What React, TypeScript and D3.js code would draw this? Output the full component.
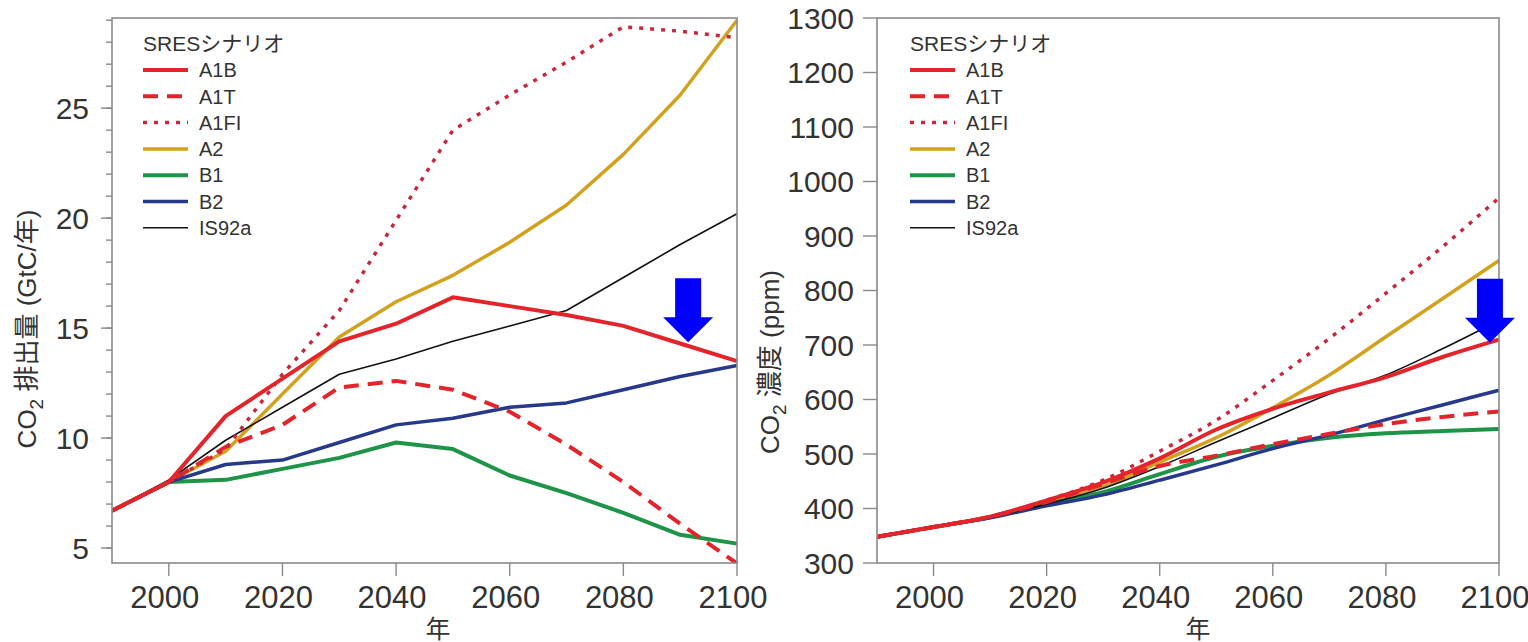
import React from "react";
import * as d3 from "d3";

const years = [1990, 2000, 2010, 2020, 2030, 2040, 2050, 2060, 2070, 2080, 2090, 2100];
const scenarios = ["A1B", "A1T", "A1FI", "A2", "B1", "B2", "IS92a"];

// CO2 emissions (GtC / year)
const emA1B = [6.7, 8.0, 11.0, 12.7, 14.4, 15.2, 16.4, 16.0, 15.6, 15.1, 14.3, 13.5];
const emA1T = [6.7, 8.0, 9.6, 10.6, 12.3, 12.6, 12.2, 11.2, 9.7, 8.0, 6.1, 4.3];
const emA1FI = [6.7, 8.0, 9.5, 12.9, 15.8, 19.9, 24.0, 25.6, 27.1, 28.7, 28.5, 28.2];
const emA2 = [6.7, 8.0, 9.4, 12.0, 14.6, 16.2, 17.4, 18.9, 20.6, 22.9, 25.6, 29.0];
const emB1 = [6.7, 8.0, 8.1, 8.6, 9.1, 9.8, 9.5, 8.3, 7.5, 6.6, 5.6, 5.2];
const emB2 = [6.7, 8.0, 8.8, 9.0, 9.8, 10.6, 10.9, 11.4, 11.6, 12.2, 12.8, 13.3];
const emIS92a = [6.7, 8.1, 9.9, 11.4, 12.9, 13.6, 14.4, 15.1, 15.8, 17.3, 18.8, 20.2];

// CO2 concentration (ppm)
const cA1B = [348, 366, 385, 415, 448, 492, 545, 583, 613, 641, 678, 710];
const cA1T = [348, 366, 385, 412, 445, 478, 497, 518, 537, 555, 568, 578];
const cA1FI = [348, 366, 385, 415, 452, 505, 562, 635, 712, 795, 880, 970];
const cA2 = [348, 366, 384, 410, 440, 485, 530, 585, 645, 715, 785, 855];
const cB1 = [348, 366, 384, 408, 430, 463, 495, 515, 530, 538, 542, 546];
const cB2 = [348, 366, 383, 405, 425, 452, 480, 510, 535, 563, 590, 617];
const cIS92a = [348, 366, 384, 408, 437, 477, 522, 566, 610, 645, 693, 745];

const xTicks = [2000, 2020, 2040, 2060, 2080, 2100];
const emTicks = [5, 10, 15, 20, 25];
const emMinor = d3.range(5, 30, 1);
const cTicks = [300, 400, 500, 600, 700, 800, 900, 1000, 1100, 1200, 1300];

const emissions = [emA1B, emA1T, emA1FI, emA2, emB1, emB2, emIS92a];
const concentrations = [cA1B, cA1T, cA1FI, cA2, cB1, cB2, cIS92a];

// arrow annotations: [year, value at tip]
const emArrow = [2091.4, 14.36];
const cArrow = [2098.4, 704];

const FONT = "'Liberation Sans', Arial, Helvetica, 'Noto Sans CJK JP', sans-serif";
const TXT = "#333";
const AX = "#8a8a8a";

const styles: Record<string, { color: string; width: number; dash?: string }> = {
  A1B: { color: "#e3242b", width: 4 },
  A1T: { color: "#e3242b", width: 4, dash: "15 9" },
  A1FI: { color: "#c8283e", width: 3.5, dash: "4 7" },
  A2: { color: "#d2a21f", width: 3.5 },
  B1: { color: "#1e9448", width: 4 },
  B2: { color: "#26398c", width: 3.5 },
  IS92a: { color: "#111", width: 1.6 },
};
const drawOrder = ["A2", "B1", "B2", "IS92a", "A1T", "A1FI", "A1B"];

type PanelProps = {
  x0: number; x1: number; y0: number; y1: number;
  yDomain: [number, number];
  yTicks: number[]; yMinor: number[];
  series: number[][];
  smooth: boolean;
  yLabel: string;
  yLabelX: number; yLabelY: number;
  yTickLabelX: number; yTickLen: number;
  legendX: number; titleX: number;
  arrow: number[];
};

function Panel(p: PanelProps) {
  const x = d3.scaleLinear().domain([1990, 2100]).range([p.x0, p.x1]);
  const y = d3.scaleLinear().domain(p.yDomain).range([p.y1, p.y0]);
  const line = d3.line<number>().x((_, i) => x(years[i])).y((v) => y(v))
    .curve(p.smooth ? d3.curveMonotoneX : d3.curveLinear);
  const ax = x(p.arrow[0]);
  const ay = y(p.arrow[1]);
  const arrowPts = [
    [ax - 13, ay - 64], [ax + 13, ay - 64], [ax + 13, ay - 25], [ax + 25, ay - 25],
    [ax, ay], [ax - 25, ay - 25], [ax - 13, ay - 25],
  ].map((q) => q.join(",")).join(" ");
  return (
    <g>
      <defs>
        <clipPath id={`clip${p.x0}`}>
          <rect x={p.x0} y={p.y0 - 2} width={p.x1 - p.x0 + 2} height={p.y1 - p.y0 + 2} />
        </clipPath>
      </defs>
      <g clipPath={`url(#clip${p.x0})`}>
        {drawOrder.map((name) => {
          const s = styles[name];
          const d = p.series[scenarios.indexOf(name)];
          return (
            <path key={name} d={line(d) || ""} fill="none" stroke={s.color} strokeWidth={s.width}
              strokeDasharray={s.dash} strokeLinejoin="round" />
          );
        })}
      </g>
      <rect x={p.x0} y={p.y0} width={p.x1 - p.x0} height={p.y1 - p.y0} fill="none" stroke={AX} strokeWidth={1.6} />
      {p.yMinor.map((t) => (
        <line key={"m" + t} x1={p.x0 - 6} x2={p.x0} y1={y(t)} y2={y(t)} stroke={AX} strokeWidth={1.4} />
      ))}
      {p.yTicks.map((t) => (
        <g key={"y" + t}>
          <line x1={p.x0 - p.yTickLen} x2={p.x0} y1={y(t)} y2={y(t)} stroke={AX} strokeWidth={1.4} />
          <text x={p.yTickLabelX} y={y(t)} dy="0.36em" textAnchor="end" fontSize={30} fill={TXT}>{t}</text>
        </g>
      ))}
      {xTicks.map((t) => (
        <g key={"x" + t}>
          <line x1={x(t)} x2={x(t)} y1={p.y1} y2={p.y1 + 13} stroke={AX} strokeWidth={1.4} />
          <text x={x(t) - 4} y={608} textAnchor="middle" fontSize={31} fill={TXT}>{t}</text>
        </g>
      ))}
      <text x={p.titleX} y={638} textAnchor="middle" fontSize={25} fill={TXT}>年</text>
      <text transform={`translate(${p.yLabelX},${p.yLabelY}) rotate(-90)`} textAnchor="middle" fontSize={26} fill={TXT}>
        CO<tspan dy={7} fontSize={19}>2</tspan><tspan dy={-7}>{p.yLabel}</tspan>
      </text>
      <text x={p.legendX} y={51} fontSize={21} fill={TXT}>SRESシナリオ</text>
      {scenarios.map((name, i) => {
        const s = styles[name];
        const yy = 70 + i * 26.3;
        return (
          <g key={"lg" + name}>
            <line x1={p.legendX} x2={p.legendX + 45} y1={yy} y2={yy} stroke={s.color}
              strokeWidth={s.width} strokeDasharray={s.dash} />
            <text x={p.legendX + 56} y={yy} dy="0.36em" fontSize={20} fill={TXT}>{name}</text>
          </g>
        );
      })}
      <polygon points={arrowPts} fill="#0000ff" />
    </g>
  );
}

export default function App() {
  return (
    <svg width={1528} height={642} style={{ position: "absolute", left: 0, top: 0, background: "#fff" }}
      fontFamily={FONT}>
      <rect width={1528} height={642} fill="#fff" />
      <Panel x0={112} x1={737} y0={18} y1={563} yDomain={[4.32, 29.1]} yTicks={emTicks} yMinor={emMinor}
        series={emissions} smooth={false} yLabel={" 排出量 (GtC/年)"} yLabelX={36} yLabelY={329}
        yTickLabelX={89} yTickLen={11} legendX={143} titleX={438} arrow={emArrow} />
      <Panel x0={877} x1={1499} y0={18} y1={563} yDomain={[300, 1300]} yTicks={cTicks} yMinor={[]}
        series={concentrations} smooth={true} yLabel={" 濃度 (ppm)"} yLabelX={779} yLabelY={362}
        yTickLabelX={854} yTickLen={14} legendX={910} titleX={1198} arrow={cArrow} />
    </svg>
  );
}
